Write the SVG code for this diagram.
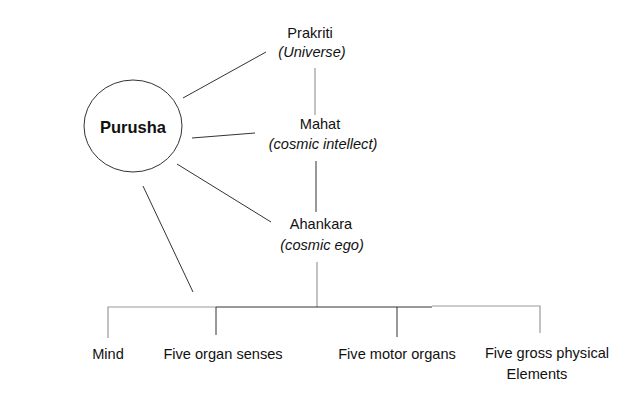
<svg xmlns="http://www.w3.org/2000/svg" width="640" height="400" viewBox="0 0 640 400">
<style>
text{font-family:"Liberation Sans",Arial,sans-serif;font-size:14.6px;fill:#111;text-anchor:middle}
.it{font-style:italic}
.b{font-weight:bold;font-size:16.5px}
.d{stroke:#333;stroke-width:1;fill:none}
.g{stroke:#999;stroke-width:1.2;fill:none}
</style>
<rect width="640" height="400" fill="#fff"/>
<g id="connectors">
<line class="d" x1="183" y1="98" x2="266" y2="52"/>
<line class="d" x1="192" y1="138" x2="255" y2="133"/>
<line class="d" x1="177" y1="164" x2="271" y2="222"/>
<line class="d" x1="143" y1="186" x2="193" y2="292"/>
<line class="g" x1="315" y1="68" x2="315" y2="115"/>
<line class="d" x1="316" y1="161" x2="316" y2="212"/>
<line class="g" x1="317" y1="262" x2="317" y2="307"/>
<polyline class="g" points="108,338 108,307 216,307"/>
<line class="d" x1="216" y1="307" x2="432" y2="307"/>
<polyline class="g" points="432,306 540,306 540,333"/>
<line class="d" x1="216" y1="307" x2="216" y2="335"/>
<line class="d" x1="397" y1="307" x2="397" y2="337"/>
</g>
<g id="purusha">
<ellipse cx="133" cy="126" rx="49" ry="46" fill="#fff" stroke="#333"/>
<text class="b" x="133" y="133">Purusha</text>
</g>
<g id="prakriti">
<text x="310" y="38">Prakriti</text>
<text class="it" x="312" y="57">(Universe)</text>
</g>
<g id="mahat">
<text x="320" y="129">Mahat</text>
<text class="it" x="323" y="149">(cosmic intellect)</text>
</g>
<g id="ahankara">
<text x="321" y="229">Ahankara</text>
<text class="it" x="322" y="250">(cosmic ego)</text>
</g>
<g id="mind"><text x="108" y="359">Mind</text></g>
<g id="senses"><text x="223" y="359">Five organ senses</text></g>
<g id="motor"><text x="397" y="359">Five motor organs</text></g>
<g id="elements">
<text x="547" y="358">Five gross physical</text>
<text x="537" y="379">Elements</text>
</g>
</svg>
